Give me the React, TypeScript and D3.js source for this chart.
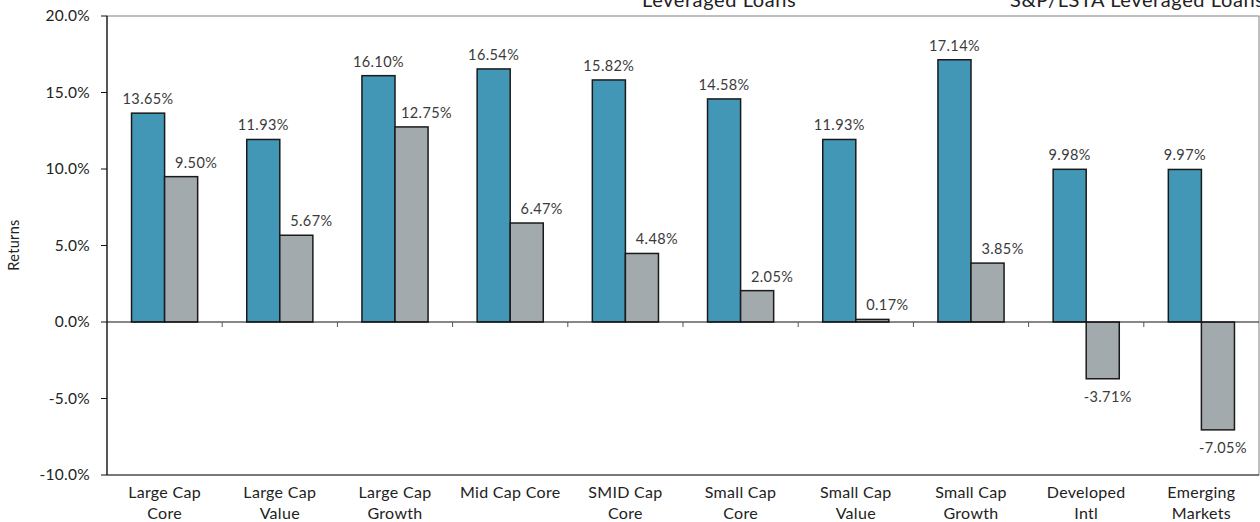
import React from "react";
import * as d3 from "d3";

const categories: string[][] = [
  ["Large Cap", "Core"],
  ["Large Cap", "Value"],
  ["Large Cap", "Growth"],
  ["Mid Cap Core"],
  ["SMID Cap", "Core"],
  ["Small Cap", "Core"],
  ["Small Cap", "Value"],
  ["Small Cap", "Growth"],
  ["Developed", "Intl"],
  ["Emerging", "Markets"],
];
const seriesA = [13.65, 11.93, 16.1, 16.54, 15.82, 14.58, 11.93, 17.14, 9.98, 9.97];
const seriesB = [9.5, 5.67, 12.75, 6.47, 4.48, 2.05, 0.17, 3.85, -3.71, -7.05];
const yTicks = [20, 15, 10, 5, 0, -5, -10];
const legendLabels = ["Leveraged Loans", "S&P/LSTA Leveraged Loans"];

const W = 1260;
const H = 522;
const left = 107;
const right = 1259;
const top = 16;
const bottom = 475;
const FONT = "Lato, 'Open Sans', sans-serif";

export default function App() {
  const x = d3
    .scaleBand<number>()
    .domain(categories.map((_, i) => i))
    .range([left, right])
    .paddingInner(0)
    .paddingOuter(0);
  const y = d3.scaleLinear().domain([-10, 20]).range([bottom, top]);
  const bw = x.bandwidth() * 0.287;
  const blue = "#4397B6";
  const gray = "#A3AAAD";
  const y0 = y(0);

  const bars: JSX.Element[] = [];
  const labels: JSX.Element[] = [];
  categories.forEach((_, i) => {
    const c = (x(i) as number) + x.bandwidth() / 2;
    [seriesA[i], seriesB[i]].forEach((v, s) => {
      const bx = s === 0 ? c - bw : c;
      const yy = v >= 0 ? y(v) : y0;
      const h = Math.abs(y(v) - y0);
      bars.push(
        <rect key={`b${i}-${s}`} x={bx} y={yy} width={bw} height={Math.max(h, 0.5)}
          fill={s === 0 ? blue : gray} stroke="#1a1a1a" strokeWidth={1.5} />
      );
      const ly = v >= 0 ? y(v) - 9 : y(v) + 23;
      const dx = s === 0 ? 0 : v >= 0 ? 15 : 5;
      labels.push(
        <text key={`l${i}-${s}`} x={bx + bw / 2 + dx} y={ly} textAnchor="middle"
          fontSize={14.5} letterSpacing={0.4} fill="#3a3a3a" fontFamily={FONT}>
          {v.toFixed(2) + "%"}
        </text>
      );
    });
  });

  return (
    <svg width={W} height={H} style={{ position: "absolute", left: 0, top: 0, background: "#fff" }}>
      <text x={642} y={7} fontSize={20} letterSpacing={0.6} fontFamily={FONT} fill="#222">{legendLabels[0]}</text>
      <text x={1010} y={7} fontSize={20} letterSpacing={0.6} fontFamily={FONT} fill="#222">{legendLabels[1]}</text>
      <rect x={left} y={top} width={right - left} height={bottom - top} fill="none" stroke="#808080" strokeWidth={1} />
      <line x1={left} x2={right} y1={bottom} y2={bottom} stroke="#333" strokeWidth={1} />
      {bars}
      <line x1={left} x2={right} y1={y0} y2={y0} stroke="#111" strokeWidth={1.2} />
      {categories.slice(1).map((_, k) => {
        const xx = x(k + 1) as number;
        return <line key={`xt${k}`} x1={xx} x2={xx} y1={y0} y2={y0 + 5} stroke="#555" strokeWidth={1} />;
      })}
      <line x1={left} x2={left} y1={top} y2={bottom} stroke="#111" strokeWidth={1.2} />
      {yTicks.map((t) => (
        <g key={`yt${t}`}>
          <line x1={left - 6} x2={left} y1={y(t)} y2={y(t)} stroke="#111" strokeWidth={1} />
          <text x={90} y={y(t) + 5} textAnchor="end" fontSize={15.5} letterSpacing={0.3} fill="#222" fontFamily={FONT}>
            {t.toFixed(1) + "%"}
          </text>
        </g>
      ))}
      <text transform={`translate(19,245) rotate(-90)`} textAnchor="middle"
        fontSize={14.5} letterSpacing={0.3} fill="#222" fontFamily={FONT}>Returns</text>
      {labels}
      {categories.map((lines, i) => {
        const c = (x(i) as number) + x.bandwidth() / 2;
        return (
          <text key={`c${i}`} textAnchor="middle" fontSize={16} letterSpacing={0.3} fill="#222" fontFamily={FONT}>
            {lines.map((ln, j) => (
              <tspan key={j} x={c} y={498 + j * 21}>{ln}</tspan>
            ))}
          </text>
        );
      })}
    </svg>
  );
}
